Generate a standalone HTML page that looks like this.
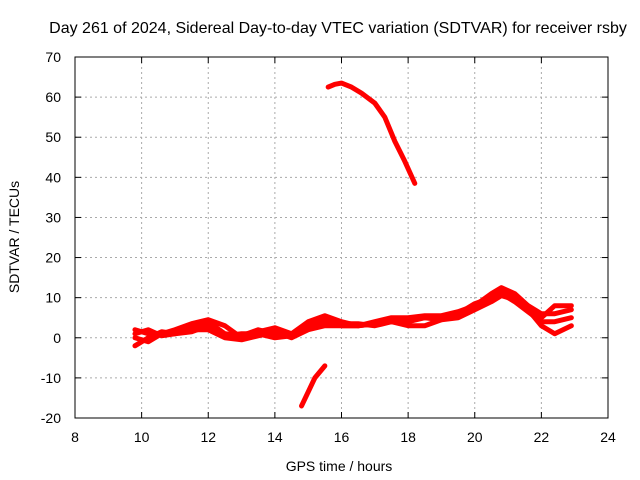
<!DOCTYPE html>
<html><head><meta charset="utf-8"><style>
body{margin:0;background:#fff}
svg{display:block;font-family:"Liberation Sans",sans-serif}
</style></head><body>
<svg id="chart" width="640" height="480">
<rect width="640" height="480" fill="#fff"/>
<text x="338" y="33" font-size="16" text-anchor="middle">Day 261 of 2024, Sidereal Day-to-day VTEC variation (SDTVAR) for receiver rsby</text>
<text x="339" y="471" font-size="14" text-anchor="middle">GPS time / hours</text>
<text transform="translate(19,237) rotate(-90)" font-size="14" text-anchor="middle">SDTVAR / TECUs</text>
<g id="grid"></g><g id="series"></g>
<rect x="75" y="57" width="533" height="361" fill="none" stroke="#000"/>
</svg>
<script>
const xTicks=[8,10,12,14,16,18,20,22,24];
const yTicks=[-20,-10,0,10,20,30,40,50,60,70];
const hours1=[9.8,10.2,10.6,11,11.5,12,12.5,13,13.5,14,14.5,15,15.5,16,16.5,17,17.5,18,18.5,19,19.5,20,20.5,20.8,21.2,21.6,22,22.4,22.9];
const band1=[-2,0,1.5,1,2.5,4,1,0.5,2,1,1,4,5.5,4,3,4,5,5,5.5,5.5,6.5,8,11,12.5,11,8,6,6,7];
const band2=[2,1,1,2,3.5,4.5,3,0,1.5,2.5,1,3,4,3,3,3.5,4.5,4.5,5,5,6,8.5,10,11,9,6.5,4,4,5];
const band3=[0,-1,1,1.5,2,2,0,-0.5,0.5,1.5,0,2,3,3,3,3.5,4,3,3,4.5,5,7,9,10.5,9.5,7,3,1,3];
const band4=[1,2,0.5,1,1.5,3,0.5,1,1,0,0.5,3.5,5,3.5,3.5,3,4,4,5,4.5,5.5,7.5,10,12,10.5,8,5,8,8];
const hoursA=[15.6,15.8,16,16.3,16.6,17,17.3,17.6,17.9,18.2];
const valsA=[62.5,63.2,63.5,62.5,61,58.5,55,49,44,38.5];
const hoursB=[14.8,15,15.2,15.5];
const valsB=[-17,-13.5,-10,-7];
const X=h=>75+(h-8)*533/16, Y=v=>418-(v+20)*361/90;
const NS='http://www.w3.org/2000/svg';
const grid=document.getElementById('grid'), ser=document.getElementById('series');
function mk(tag,attrs,parent){const e=document.createElementNS(NS,tag);for(const k in attrs)e.setAttribute(k,attrs[k]);parent.appendChild(e);return e;}
xTicks.forEach(t=>{
 const x=X(t);
 if(t>8&&t<24){const l=mk('line',{x1:x,x2:x,y1:57,y2:418,stroke:'#aaa','stroke-dasharray':'2,3'},grid);
 }
 mk('line',{x1:x,x2:x,y1:418,y2:412,stroke:'#000'},grid);mk('line',{x1:x,x2:x,y1:57,y2:63,stroke:'#000'},grid);
 const tx=mk('text',{x:x,y:442,'font-size':14,'text-anchor':'middle'},grid);tx.textContent=t;
 
});
yTicks.forEach(t=>{
 const y=Y(t);
 if(t>-20&&t<70){const l=mk('line',{x1:75,x2:608,y1:y,y2:y,stroke:'#aaa','stroke-dasharray':'2,3'},grid);
 }
 mk('line',{x1:75,x2:81,y1:y,y2:y,stroke:'#000'},grid);mk('line',{x1:608,x2:602,y1:y,y2:y,stroke:'#000'},grid);
 const tx=mk('text',{x:61,y:y+5,'font-size':14,'text-anchor':'end'},grid);tx.textContent=t;
 
});
function line(hs,vs,name){
 const p=mk('polyline',{points:hs.map((h,i)=>X(h)+','+Y(vs[i])).join(' '),fill:'none',stroke:'#f00','stroke-width':5,'stroke-linejoin':'round','stroke-linecap':'round'},ser);
 
 
}
line(hours1,band1,'sdtvar-series-1');
line(hours1,band2,'sdtvar-series-2');
line(hours1,band3,'sdtvar-series-3');
line(hours1,band4,'sdtvar-series-4');
line(hoursA,valsA,'sdtvar-series-high');
line(hoursB,valsB,'sdtvar-series-low');
</script>
</body></html>
